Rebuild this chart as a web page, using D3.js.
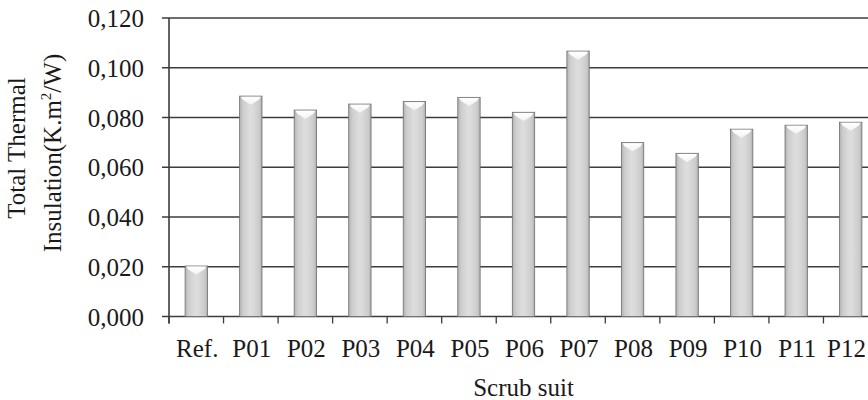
<!DOCTYPE html>
<html>
<head>
<meta charset="utf-8">
<script src="https://cdn.jsdelivr.net/npm/d3@7"></script>
<style>
  html, body { margin: 0; padding: 0; background: #fff; }
  svg { display: block; }
  text { font-family: "Liberation Serif", "Times New Roman", serif; fill: #1a1a1a; }
</style>
</head>
<body>
<svg id="chart" width="868" height="400"></svg>
<script>
// ---- data ----
const categories = ["Ref.", "P01", "P02", "P03", "P04", "P05", "P06", "P07", "P08", "P09", "P10", "P11", "P12"];
const insulation = [0.0203, 0.0886, 0.0830, 0.0854, 0.0864, 0.0881, 0.0821, 0.1067, 0.0699, 0.0656, 0.0753, 0.0769, 0.0781];
const yTicks = [0, 0.02, 0.04, 0.06, 0.08, 0.10, 0.12];
const xTitle = "Scrub suit";
const yTitleLine1 = "Total Thermal";

(function () {
// ---- layout ----
const W = 868;
const svg = d3.select("#chart");
const pLeft = 169, pRight = 878, pTop = 18, pBottom = 316.5;

const x = d3.scaleBand().domain(categories).range([pLeft, pRight]).padding(0);
const y = d3.scaleLinear().domain([0, 0.12]).range([pBottom, pTop]);
const fmt = d3.formatLocale({decimal: ",", thousands: ".", grouping: [3], currency: ["", ""]}).format(".3f");

// gradient for bars
const defs = svg.append("defs");
const g1 = defs.append("linearGradient").attr("id", "barGrad").attr("x1", "0").attr("x2", "1").attr("y1", "0").attr("y2", "0");
[[0, "#b2b2b2"], [0.15, "#cdcdcd"], [0.45, "#dddddd"], [0.6, "#dadada"], [0.88, "#cbcbcb"], [1, "#adadad"]]
  .forEach(([o, c]) => g1.append("stop").attr("offset", o).attr("stop-color", c));
const g2 = defs.append("linearGradient").attr("id", "capGrad").attr("x1", "0").attr("x2", "0").attr("y1", "0").attr("y2", "1");
[[0, "#ffffff"], [1, "#f4f4f4"]].forEach(([o, c]) => g2.append("stop").attr("offset", o).attr("stop-color", c));

// gridlines
svg.append("g").selectAll("line").data(yTicks).join("line")
  .attr("x1", pLeft - 7).attr("x2", W)
  .attr("y1", d => y(d)).attr("y2", d => y(d))
  .attr("stroke", "#3c3c3c").attr("stroke-width", 1.6);

// y axis line
svg.append("line").attr("x1", pLeft).attr("x2", pLeft).attr("y1", y(0.12)).attr("y2", y(0) + 7)
  .attr("stroke", "#3c3c3c").attr("stroke-width", 1.6);

// x ticks at band boundaries
const boundaries = categories.map(c => x(c)).concat([x(categories[categories.length - 1]) + x.bandwidth()]);
svg.append("g").selectAll("line").data(boundaries).join("line")
  .attr("x1", d => d).attr("x2", d => d)
  .attr("y1", y(0)).attr("y2", y(0) + 7)
  .attr("stroke", "#3c3c3c").attr("stroke-width", 1.3);

// bars
const bw = x.bandwidth() * 0.41;
const bars = svg.append("g").selectAll("g").data(categories.map((c, i) => ({c, v: insulation[i]}))).join("g");
bars.append("rect")
  .attr("x", d => x(d.c) + x.bandwidth() / 2 - bw / 2)
  .attr("y", d => y(d.v))
  .attr("width", bw)
  .attr("height", d => y(0) - y(d.v))
  .attr("fill", "url(#barGrad)")
  .attr("stroke", "#6e6e6e").attr("stroke-width", 0.8);
bars.append("path")
  .attr("d", d => {
    const x0 = x(d.c) + x.bandwidth() / 2 - bw / 2 + 1.2, x1 = x0 + bw - 2.4, xm = (x0 + x1) / 2, t = y(d.v) + 0.6;
    return `M${x0},${t} L${x1},${t} L${x1 - 2},${t + 3} L${xm},${t + 8} L${x0 + 2},${t + 3} Z`;
  })
  .attr("fill", "url(#capGrad)");

// y tick labels
svg.append("g").selectAll("text").data(yTicks).join("text")
  .attr("x", 144).attr("y", d => y(d)).attr("dy", "0.36em")
  .attr("text-anchor", "end").attr("font-size", 25)
  .text(d => fmt(d));

// x tick labels (kept inside the picture)
svg.append("g").selectAll("text").data(categories).join("text")
  .attr("x", d => x(d) + x.bandwidth() / 2 + 1).attr("y", 357)
  .attr("text-anchor", "middle").attr("font-size", 25)
  .text(d => d)
  .each(function () {
    const b = this.getBBox();
    if (b.x + b.width > W - 2) d3.select(this).attr("x", +d3.select(this).attr("x") - (b.x + b.width - (W - 2)));
  });

// x title
svg.append("text").attr("x", (pLeft + pRight) / 2).attr("y", 396)
  .attr("text-anchor", "middle").attr("font-size", 25).text(xTitle);

// y title
svg.append("text").attr("transform", "translate(25,148) rotate(-90)")
  .attr("text-anchor", "middle").attr("font-size", 25).text(yTitleLine1);
const t2 = svg.append("text").attr("transform", "translate(61,153) rotate(-90)")
  .attr("text-anchor", "middle").attr("font-size", 25);
t2.append("tspan").text("Insulation(K.m");
t2.append("tspan").attr("font-size", 15).attr("dy", -10).text("2");
t2.append("tspan").attr("dy", 10).text("/W)");
})();
</script>
</body>
</html>
